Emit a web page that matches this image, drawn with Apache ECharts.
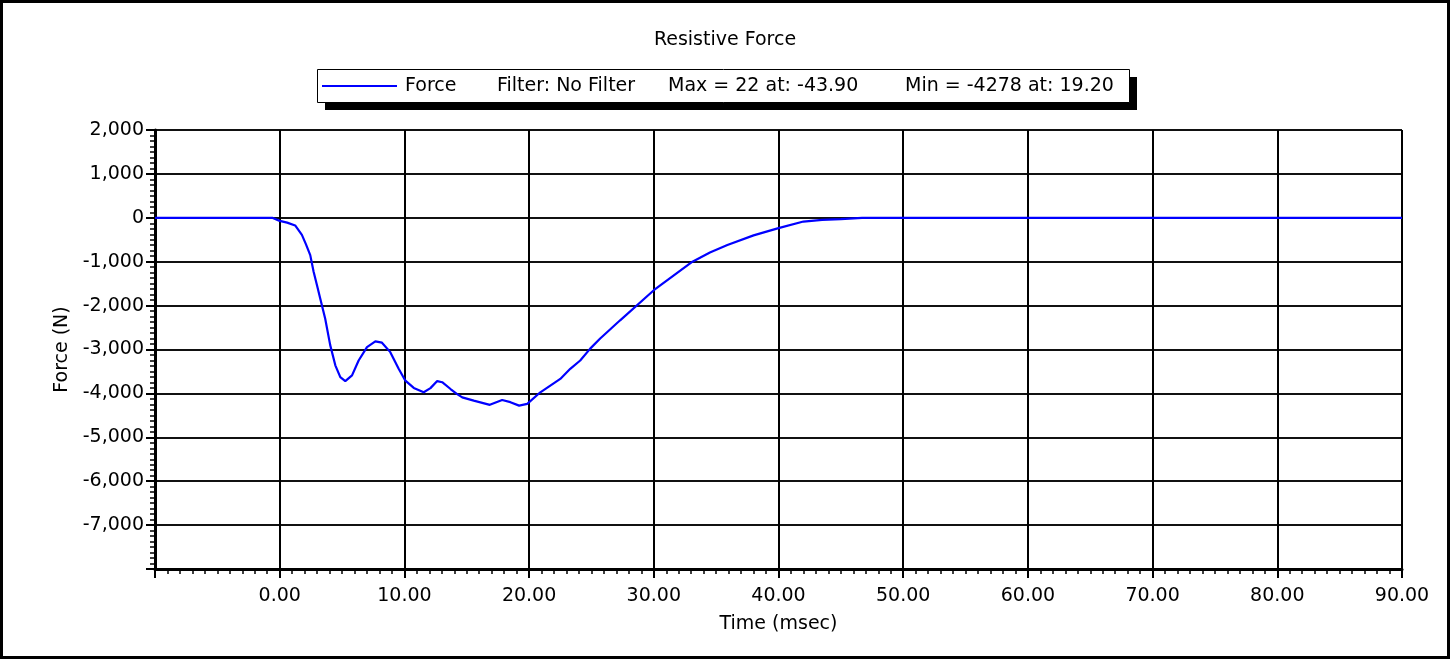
<!DOCTYPE html>
<html>
<head>
<meta charset="utf-8">
<script src="https://cdn.jsdelivr.net/npm/echarts@6/dist/echarts.min.js"></script>
<style>
html,body{margin:0;padding:0;background:#fff;}
#chart{width:1450px;height:659px;}
</style>
</head>
<body>
<div id="chart"></div>
<script>
// ---- data ----
const timeMs = [-10, -0.6, 0, 0.6, 1.24, 1.78, 2.1, 2.45, 2.72, 3.0, 3.25, 3.65, 4.05, 4.46, 4.86, 5.26, 5.8, 6.33, 7.0, 7.67, 8.2, 8.87, 9.54, 10.08, 10.75, 11.55, 12.09, 12.63, 13.03, 13.7, 14.2, 14.64, 15.56, 16.85, 17.84, 18.5, 19.2, 19.85, 20.9, 22.5, 23.3, 24.1, 24.9, 25.7, 27.3, 30.0, 33.1, 34.5, 35.9, 38.0, 40.0, 42.0, 43.5, 45.0, 46.7, 90];
const forceN = [0, 0, -70, -110, -175, -390, -600, -850, -1230, -1550, -1840, -2300, -2900, -3360, -3630, -3720, -3590, -3250, -2945, -2815, -2845, -3060, -3440, -3710, -3875, -3975, -3880, -3720, -3745, -3900, -4010, -4090, -4165, -4260, -4150, -4200, -4278, -4240, -3975, -3670, -3440, -3250, -2980, -2750, -2335, -1650, -1000, -790, -620, -400, -235, -85, -46, -30, 0, 0];
const titleText = 'Resistive Force';
const seriesName = 'Force';
const legendParts = ['Filter: No Filter', 'Max = 22 at: -43.90', 'Min = -4278 at: 19.20'];
const xAxisName = 'Time (msec)';
const yAxisName = 'Force (N)';
const xRange = [-10, 90];
const yRange = [-8000, 2000];

const FONT = 'DejaVu Sans';
const chart = echarts.init(document.getElementById('chart'), null, {renderer: 'canvas'});
const points = timeMs.map((t, i) => [t, forceN[i]]);

chart.setOption({
  animation: false,
  backgroundColor: '#fff',
  title: {
    text: titleText, left: 'center', top: 29, padding: 0,
    textStyle: {fontFamily: FONT, fontSize: 19, fontWeight: 'normal', color: '#000', lineHeight: 22}
  },
  graphic: [
    {type: 'rect', z: -10, shape: {x: 1.5, y: 1.5, width: 1447, height: 656}, style: {fill: '#fff', stroke: '#000', lineWidth: 3}},
    {type: 'rect', z: 1, shape: {x: 325, y: 77, width: 812, height: 33}, style: {fill: '#000'}},
    {type: 'rect', z: 2, shape: {x: 317.5, y: 69.5, width: 812, height: 33}, style: {fill: '#fff', stroke: '#000', lineWidth: 1}}
  ],
  legend: {
    z: 10,
    left: 322, top: 75, padding: 0,
    itemWidth: 75, itemHeight: 2, icon: 'rect', itemGap: 0,
    data: [seriesName],
    formatter: function (name) {
      return '{a|' + name + '}{b|' + legendParts[0] + '}{c|' + legendParts[1] + '}{d|' + legendParts[2] + '}';
    },
    textStyle: {
      fontFamily: FONT, fontSize: 19, color: '#000', padding: [0, 0, 0, 3], lineHeight: 22,
      rich: {
        a: {fontFamily: FONT, fontSize: 19, color: '#000', width: 92, lineHeight: 22},
        b: {fontFamily: FONT, fontSize: 19, color: '#000', width: 171, lineHeight: 22},
        c: {fontFamily: FONT, fontSize: 19, color: '#000', width: 237, lineHeight: 22},
        d: {fontFamily: FONT, fontSize: 19, color: '#000', lineHeight: 22}
      }
    }
  },
  grid: {left: 155, right: 48, top: 130, bottom: 90, containLabel: false},
  xAxis: {
    type: 'value', min: xRange[0], max: xRange[1], interval: 10,
    name: xAxisName, nameLocation: 'middle', nameGap: 46,
    nameTextStyle: {fontFamily: FONT, fontSize: 19, color: '#000'},
    axisLine: {show: true, onZero: false, lineStyle: {color: '#000', width: 3}},
    axisTick: {show: true, length: 9, lineStyle: {color: '#000', width: 2}},
    minorTick: {show: true, splitNumber: 10, length: 5, lineStyle: {color: '#000', width: 1.5}},
    axisLabel: {
      margin: 18, fontFamily: FONT, fontSize: 19, color: '#000',
      formatter: v => (v === xRange[0] ? '' : v.toFixed(2))
    },
    splitLine: {show: true, lineStyle: {color: '#000', width: 2}}
  },
  yAxis: {
    type: 'value', min: yRange[0], max: yRange[1], interval: 1000,
    name: yAxisName, nameLocation: 'middle', nameGap: 80, nameRotate: 90,
    nameTextStyle: {fontFamily: FONT, fontSize: 19, color: '#000'},
    axisLine: {show: true, onZero: false, lineStyle: {color: '#000', width: 3}},
    axisTick: {show: true, length: 9, lineStyle: {color: '#000', width: 2}},
    minorTick: {show: true, splitNumber: 8, length: 5, lineStyle: {color: '#000', width: 1.5}},
    axisLabel: {
      margin: 11, fontFamily: FONT, fontSize: 19, color: '#000',
      formatter: v => (v === yRange[0] ? '' : v.toLocaleString('en-US'))
    },
    splitLine: {show: true, lineStyle: {color: '#111', width: 2}}
  },
  series: [{
    name: seriesName, type: 'line', data: points, symbol: 'none', smooth: false,
    lineStyle: {color: '#0000ff', width: 2.2}, itemStyle: {color: '#0000ff'}, z: 5
  }]
});
</script>
</body>
</html>
